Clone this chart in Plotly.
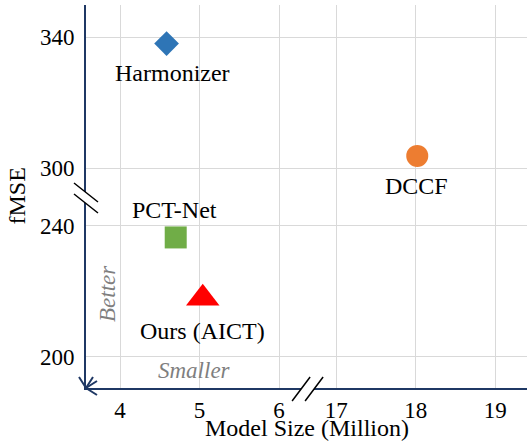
import plotly.graph_objects as go

# ---- data ----
methods = ["Harmonizer", "DCCF", "PCT-Net", "Ours (AICT)"]
model_size = [4.585, 18.02, 4.70, 5.04]      # Million
fmse = [338.0, 303.7, 236.5, 217.9]
x_ticks = [4, 5, 6, 17, 18, 19]
y_ticks = [200, 240, 300, 340]

# styles
symbols = ["diamond", "circle", "square", "triangle-up"]
colors = ["#2e75b6", "#ed7d31", "#70ad47", "#ff0000"]
sizes = [19, 22, 22, 29]
label_shift = [(6, -29.5), (-1, -30), (-1, 27.5), (0, -33)]

# broken-axis mapping
X_CUT, X_GAP = 10.0, 10.283   # values above X_CUT are shifted left
Y_CUT, Y_GAP = 270.0, 42.3    # values above Y_CUT are shifted down


def fx(v):
    return v - X_GAP if v > X_CUT else v


def fy(v):
    return v - Y_GAP if v > Y_CUT else v


FONT = "Liberation Serif"
NAVY = "#1f3864"
GRID = "#d9d9d9"
FS = 24

fig = go.Figure()
for m, x, y, s, c, sz in zip(methods, model_size, fmse, symbols, colors, sizes):
    fig.add_trace(go.Scatter(
        x=[fx(x)], y=[fy(y)], mode="markers", name=m,
        marker=dict(symbol=s, color=c, size=sz, line=dict(width=0)),
        showlegend=False, cliponaxis=False,
    ))

annotations = []
for m, x, y, (dx, dy) in zip(methods, model_size, fmse, label_shift):
    annotations.append(dict(
        x=fx(x), y=fy(y), xref="x", yref="y", text=m, showarrow=False,
        xshift=dx, yshift=dy, font=dict(family=FONT, size=FS, color="black"),
        xanchor="center", yanchor="middle",
    ))

# direction hints
annotations.append(dict(x=4.937, y=196.0, xref="x", yref="y", text="<i>Smaller</i>",
                        showarrow=False, font=dict(family=FONT, size=23, color="#7f7f7f")))
annotations.append(dict(x=3.843, y=219.4, xref="x", yref="y", text="<i>Better</i>",
                        showarrow=False, textangle=-90,
                        font=dict(family=FONT, size=23, color="#7f7f7f")))

# axis titles
annotations.append(dict(x=0.5, y=0, xref="paper", yref="paper", yshift=-40,
                        text="Model Size (Million)", showarrow=False,
                        xanchor="center", yanchor="middle",
                        font=dict(family=FONT, size=FS, color="black")))
annotations.append(dict(x=0, y=0.5, xref="paper", yref="paper", xshift=-70,
                        text="fMSE", showarrow=False, textangle=-90,
                        xanchor="center", yanchor="middle",
                        font=dict(family=FONT, size=FS, color="black")))

x_lo, x_hi = 3.572, fx(19.40)
y_lo, y_hi = 190.53, fy(349.77)

# break marks and corner arrow heads (pixel offsets)
y_break = 248.55
x_break = 6.352
shapes = [
    dict(type="path", xref="paper", xanchor=0, xsizemode="pixel",
         yref="y", yanchor=y_break, ysizemode="pixel",
         path="M-12,15 L12,-4 L12,-15 L-12,4 Z", fillcolor="white",
         line=dict(width=0), layer="above"),
    dict(type="path", xref="paper", xanchor=0, xsizemode="pixel",
         yref="y", yanchor=y_break, ysizemode="pixel",
         path="M-12,15 L12,-4 M-12,4 L12,-15", line=dict(color="black", width=1.5),
         layer="above"),
    dict(type="path", xref="x", xanchor=x_break, xsizemode="pixel",
         yref="paper", yanchor=0, ysizemode="pixel",
         path="M-15,-13 L3,11 L16,11 L-2,-13 Z", fillcolor="white",
         line=dict(width=0), layer="above"),
    dict(type="path", xref="x", xanchor=x_break, xsizemode="pixel",
         yref="paper", yanchor=0, ysizemode="pixel",
         path="M-15,-13 L3,11 M-2,-13 L16,11", line=dict(color="black", width=1.5),
         layer="above"),
    # arrow heads at the origin corner
    dict(type="path", xref="paper", xanchor=0, xsizemode="pixel",
         yref="paper", yanchor=0, ysizemode="pixel",
         path="M-7,11 L0,0 L7,11", line=dict(color=NAVY, width=2), layer="above"),
    dict(type="path", xref="paper", xanchor=0, xsizemode="pixel",
         yref="paper", yanchor=0, ysizemode="pixel",
         path="M11,7 L0,0 L11,-7", line=dict(color=NAVY, width=2), layer="above"),
]

fig.update_layout(
    width=527, height=445,
    margin=dict(l=86, r=0, t=5, b=57, autoexpand=False),
    paper_bgcolor="white", plot_bgcolor="white",
    font=dict(family=FONT, size=FS, color="black"),
    annotations=annotations, shapes=shapes,
    xaxis=dict(
        range=[x_lo, x_hi], tickvals=[fx(v) for v in x_ticks],
        ticktext=[str(v) for v in x_ticks], showgrid=True, gridcolor=GRID, gridwidth=1,
        zeroline=False, showline=True, linecolor=NAVY, linewidth=2,
        ticks="", ticklabelstandoff=0, automargin=False,
        tickfont=dict(family=FONT, size=23),
    ),
    yaxis=dict(
        range=[y_lo, y_hi], tickvals=[fy(v) for v in y_ticks],
        ticktext=[str(v) for v in y_ticks], showgrid=True, gridcolor=GRID, gridwidth=1,
        zeroline=False, showline=True, linecolor=NAVY, linewidth=2,
        ticks="", ticklabelstandoff=5, automargin=False,
        tickfont=dict(family=FONT, size=23),
    ),
)

fig.write_html("out.html", config={"displayModeBar": False},
               post_script="document.body.style.margin='0';document.body.style.padding='0';")
